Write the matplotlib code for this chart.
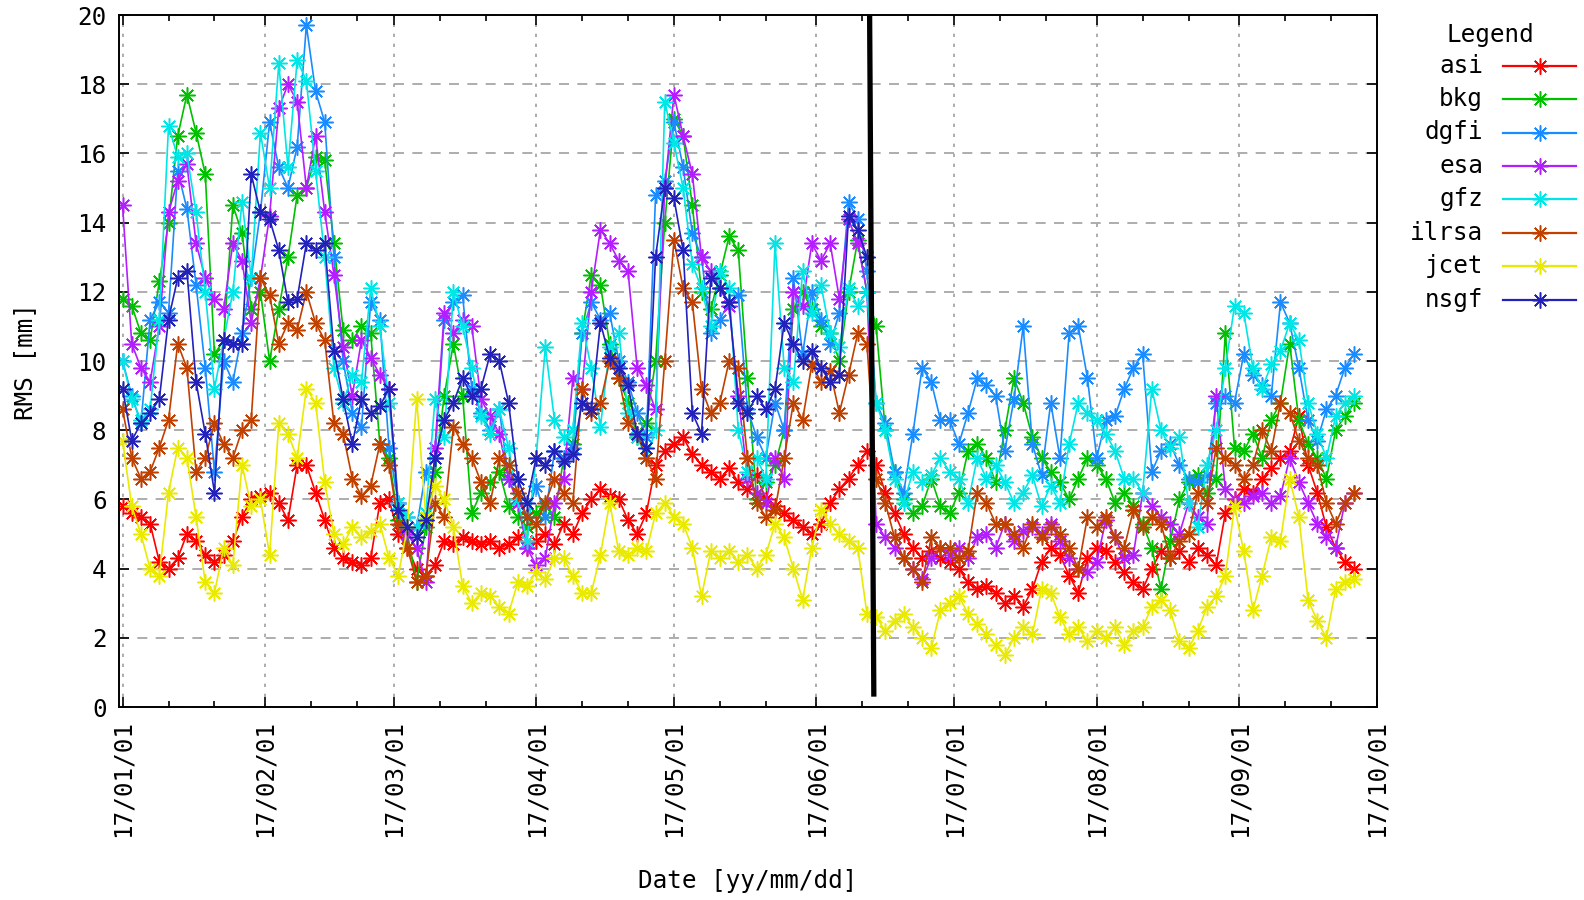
import numpy as np
import pandas as pd
import matplotlib
matplotlib.use('Agg')
import matplotlib.pyplot as plt
import matplotlib.dates as mdates
from matplotlib.lines import Line2D

# RMS values read every second day, 2017-01-01 .. 2017-09-26
dates = pd.date_range('2017-01-01', periods=135, freq='2D')

asi = [5.8, 5.6, 5.5, 5.3, 4.2, 4.0, 4.3, 5.0, 4.8, 4.4,
       4.2, 4.4, 4.8, 5.5, 6.0, 6.1, 6.2, 5.9, 5.4, 7.0,
       7.0, 6.2, 5.4, 4.6, 4.3, 4.2, 4.1, 4.3, 5.9, 6.0,
       5.0, 4.6, 4.0, 3.8, 4.1, 4.8, 4.7, 4.9, 4.8, 4.7,
       4.8, 4.6, 4.7, 4.9, 4.6, 4.8, 5.0, 4.7, 5.3, 5.0,
       5.6, 6.0, 6.3, 6.1, 6.0, 5.4, 5.0, 5.6, 7.0, 7.4,
       7.6, 7.8, 7.3, 7.0, 6.8, 6.6, 6.9, 6.5, 6.3, 6.7,
       6.0, 5.8, 5.6, 5.4, 5.2, 5.0, 5.3, 5.9, 6.3, 6.6,
       7.0, 7.4, 7.0, 6.2, 5.6, 5.0, 4.6, 4.3, 4.5, 4.3,
       4.2, 4.0, 3.6, 3.4, 3.5, 3.3, 3.0, 3.2, 2.9, 3.4,
       4.2, 4.6, 4.4, 3.8, 3.3, 4.3, 4.6, 4.5, 4.2, 3.9,
       3.6, 3.4, 4.0, 4.5, 4.3, 4.5, 4.2, 4.6, 4.4, 4.1,
       5.6, 6.0, 6.3, 6.2, 6.6, 6.9, 7.2, 7.4, 8.4, 7.0,
       6.2, 5.2, 4.6, 4.2, 4.0]

bkg = [11.8, 11.6, 10.8, 10.6, 12.3, 14.0, 16.5, 17.7, 16.6, 15.4,
       10.2, 10.6, 14.5, 13.7, 11.5, 12.0, 10.0, 11.5, 13.0, 14.8,
       15.0, 15.9, 15.8, 13.4, 10.9, 10.6, 11.0, 10.8, 7.6, 7.2,
       5.4, 5.0, 3.6, 5.2, 6.8, 9.0, 10.5, 9.0, 5.6, 6.2,
       6.5, 6.8, 5.8, 5.5, 5.2, 5.6, 5.8, 5.5, 7.2, 7.6,
       10.8, 12.5, 12.2, 10.5, 9.5, 8.8, 7.8, 8.2, 10.0, 14.0,
       17.0, 16.5, 14.5, 12.0, 11.5, 12.5, 13.6, 13.2, 9.5, 6.0,
       6.5, 7.0, 8.0, 11.5, 12.0, 11.5, 11.0, 10.8, 10.0, 12.0,
       13.5, 12.0, 11.0, 8.0, 6.8, 6.0, 5.6, 5.8, 6.6, 5.8,
       5.6, 6.2, 7.4, 7.6, 7.2, 6.5, 8.0, 9.5, 8.8, 7.8,
       7.2, 6.8, 6.5, 6.0, 6.6, 7.2, 7.0, 6.6, 5.9, 6.2,
       5.8, 5.3, 4.6, 3.4, 4.8, 6.0, 6.5, 6.7, 6.2, 6.6,
       10.8, 7.5, 7.4, 7.9, 7.2, 8.3, 8.8, 10.5, 8.3, 7.6,
       7.2, 6.6, 8.0, 8.4, 8.8]

dgfi = [10.0, 9.0, 8.2, 11.2, 11.7, 11.4, 15.5, 14.4, 12.2, 9.8,
        6.8, 10.0, 9.4, 10.8, 12.4, 14.3, 16.9, 15.6, 15.0, 16.2,
        19.7, 17.8, 16.9, 13.0, 10.0, 8.5, 8.1, 11.7, 11.2, 7.5,
        5.9, 5.5, 5.2, 6.8, 7.2, 11.2, 11.7, 11.9, 9.2, 8.5,
        8.0, 8.6, 6.6, 6.0, 5.5, 6.4, 5.5, 7.4, 7.2, 7.5,
        10.8, 11.7, 11.2, 11.4, 10.0, 9.4, 8.5, 7.8, 14.8, 15.2,
        16.9, 15.6, 13.7, 13.0, 10.8, 11.2, 11.7, 11.9, 8.6, 7.8,
        7.2, 8.8, 8.0, 12.4, 10.2, 12.0, 11.2, 10.5, 11.4, 14.6,
        14.1, 12.6, 8.8, 8.2, 6.8, 6.2, 7.9, 9.8, 9.4, 8.3,
        8.3, 7.6, 8.5, 9.5, 9.3, 9.0, 7.4, 8.9, 11.0, 7.6,
        6.7, 8.8, 7.2, 10.8, 11.0, 9.5, 7.2, 8.3, 8.4, 9.2,
        9.8, 10.2, 6.8, 7.4, 7.6, 7.0, 6.6, 6.5, 6.7, 8.8,
        9.0, 8.8, 10.2, 9.6, 9.3, 9.0, 11.7, 11.1, 9.8, 8.3,
        7.7, 8.6, 9.0, 9.8, 10.2]

esa = [14.5, 10.5, 9.8, 9.4, 11.0, 14.3, 15.2, 15.7, 13.4, 12.4,
       11.8, 11.5, 13.4, 12.9, 11.1, 12.4, 14.2, 17.3, 18.0, 17.5,
       15.0, 16.5, 14.3, 12.5, 10.4, 9.0, 10.6, 10.1, 9.6, 9.2,
       5.9, 5.0, 4.6, 3.6, 7.5, 11.4, 10.8, 11.2, 11.0, 8.9,
       8.4, 7.9, 6.6, 5.9, 4.6, 4.1, 4.3, 5.9, 6.6, 9.5,
       9.2, 12.0, 13.8, 13.4, 12.9, 12.6, 9.8, 9.3, 8.6, 15.0,
       17.7, 16.5, 15.4, 13.0, 12.6, 12.1, 11.6, 9.0, 6.6, 6.2,
       5.9, 7.2, 6.6, 12.0, 11.6, 13.4, 12.9, 13.4, 11.8, 14.1,
       13.4, 12.0, 5.3, 4.9, 4.6, 4.3, 4.0, 3.7, 4.3, 4.6,
       4.4, 4.6, 4.3, 4.9, 5.0, 4.6, 5.3, 4.8, 5.1, 5.2,
       5.0, 5.3, 4.8, 4.3, 4.0, 3.9, 4.2, 5.4, 4.9, 4.3,
       4.4, 6.2, 5.8, 5.5, 5.3, 5.0, 5.9, 5.5, 5.3, 9.0,
       6.3, 6.0, 5.9, 6.1, 6.2, 5.9, 6.1, 7.2, 6.5, 5.9,
       5.3, 4.9, 4.6, 5.9, 6.2]

gfz = [10.0, 8.9, 8.3, 8.6, 11.2, 16.8, 15.9, 16.0, 14.3, 12.0,
       9.2, 10.6, 12.0, 14.6, 12.4, 16.6, 15.0, 18.6, 15.6, 18.7,
       18.1, 15.5, 13.0, 9.8, 8.8, 9.6, 9.4, 12.1, 11.0, 8.8,
       5.9, 5.5, 5.2, 5.6, 8.9, 7.8, 12.0, 11.0, 9.8, 8.4,
       7.9, 8.6, 7.5, 6.0, 4.8, 7.2, 10.4, 8.3, 7.8, 8.0,
       11.1, 9.8, 8.1, 10.4, 10.8, 8.5, 7.8, 7.2, 8.0, 17.5,
       16.3, 15.0, 12.8, 12.1, 11.0, 12.6, 12.1, 8.0, 6.8, 7.2,
       6.6, 13.4, 9.8, 9.4, 12.6, 11.4, 12.2, 10.8, 10.4, 12.1,
       11.6, 12.0, 8.8, 8.0, 6.6, 5.9, 6.8, 6.5, 6.7, 7.2,
       6.8, 6.6, 5.9, 7.2, 6.6, 7.0, 6.5, 5.9, 6.2, 6.7,
       5.8, 6.4, 5.9, 7.6, 8.8, 8.5, 8.3, 7.9, 7.4, 6.6,
       6.6, 6.2, 9.2, 8.0, 7.5, 7.8, 5.9, 5.2, 7.0, 8.0,
       9.8, 11.6, 11.4, 9.8, 9.2, 9.9, 10.3, 11.1, 10.6, 8.8,
       7.9, 7.2, 8.4, 8.8, 9.0]

ilrsa = [8.6, 7.2, 6.6, 6.8, 7.5, 8.3, 10.5, 9.8, 6.8, 7.2,
         8.2, 7.6, 7.2, 8.0, 8.3, 12.4, 11.9, 10.5, 11.1, 10.9,
         12.0, 11.1, 10.6, 8.2, 7.9, 6.6, 6.1, 6.4, 7.6, 7.0,
         5.3, 4.6, 3.6, 3.8, 5.9, 5.5, 8.1, 7.6, 7.2, 6.5,
         5.9, 7.2, 7.0, 6.2, 5.5, 5.3, 5.9, 6.6, 6.2, 5.9,
         9.2, 8.5, 8.8, 10.0, 9.5, 8.2, 7.9, 7.2, 6.6, 10.0,
         13.5, 12.1, 11.7, 9.2, 8.5, 8.8, 10.0, 9.8, 7.2, 5.9,
         5.5, 5.7, 7.2, 8.8, 8.3, 9.9, 9.4, 9.7, 8.5, 9.6,
         10.8, 10.5, 6.6, 5.9, 4.9, 4.3, 4.0, 3.6, 4.9, 4.6,
         4.6, 4.3, 4.5, 6.2, 5.9, 5.3, 5.3, 5.0, 4.6, 5.3,
         4.9, 5.2, 5.0, 4.6, 4.0, 5.5, 5.2, 5.5, 4.9, 4.6,
         5.7, 5.2, 5.5, 5.3, 4.3, 4.8, 5.0, 6.2, 5.9, 7.5,
         7.2, 7.0, 6.6, 7.0, 8.0, 7.4, 8.8, 8.5, 7.7, 7.2,
         7.0, 5.9, 5.3, 5.9, 6.2]

jcet = [7.7, 5.8, 5.0, 4.0, 3.8, 6.2, 7.5, 7.2, 5.5, 3.6,
        3.3, 4.6, 4.1, 7.0, 5.8, 6.0, 4.4, 8.2, 7.9, 7.2,
        9.2, 8.8, 6.5, 5.0, 4.7, 5.2, 4.9, 5.1, 5.3, 4.3,
        3.8, 5.2, 8.9, 5.5, 6.4, 6.0, 5.2, 3.5, 3.0, 3.3,
        3.2, 2.9, 2.7, 3.6, 3.5, 3.9, 3.7, 4.3, 4.3, 3.8,
        3.3, 3.3, 4.4, 5.9, 4.5, 4.4, 4.6, 4.5, 5.6, 5.9,
        5.5, 5.3, 4.6, 3.2, 4.5, 4.3, 4.5, 4.2, 4.4, 4.0,
        4.4, 5.3, 4.9, 4.0, 3.1, 4.6, 5.7, 5.3, 5.0, 4.8,
        4.6, 2.7, 2.6, 2.2, 2.5, 2.7, 2.3, 2.0, 1.7, 2.8,
        3.0, 3.2, 2.7, 2.4, 2.1, 1.8, 1.5, 2.0, 2.3, 2.1,
        3.4, 3.3, 2.6, 2.1, 2.3, 1.9, 2.2, 2.0, 2.3, 1.8,
        2.2, 2.3, 2.9, 3.1, 2.8, 1.9, 1.7, 2.2, 2.9, 3.2,
        3.8, 5.8, 4.5, 2.8, 3.8, 4.9, 4.8, 6.6, 5.5, 3.1,
        2.5, 2.0, 3.4, 3.6, 3.7]

# nsgf stops at the marked cut in June
nsgf = [9.2, 7.7, 8.2, 8.5, 8.9, 11.2, 12.4, 12.6, 9.4, 7.9,
        6.2, 10.6, 10.5, 10.5, 15.4, 14.3, 14.1, 13.2, 11.7, 11.8,
        13.4, 13.2, 13.4, 10.3, 8.9, 7.6, 8.9, 8.5, 8.7, 9.2,
        5.7, 5.2, 4.9, 5.4, 7.2, 8.3, 8.8, 9.5, 9.0, 9.2,
        10.2, 10.0, 8.8, 6.6, 5.9, 7.2, 7.0, 7.4, 7.1, 7.3,
        8.8, 8.6, 11.1, 10.1, 9.8, 9.3, 7.9, 7.5, 13.0, 15.0,
        14.7, 13.2, 8.5, 7.9, 12.4, 12.1, 11.7, 8.8, 8.5, 9.0,
        8.6, 9.2, 11.1, 10.5, 10.0, 10.3, 9.8, 9.4, 9.6, 14.2,
        13.8, 13.0]

names = ['asi', 'bkg', 'dgfi', 'esa', 'gfz', 'ilrsa', 'jcet', 'nsgf']
colors = ['#ff0000', '#00c000', '#1a8cff', '#b41eff',
          '#00e6e6', '#c04000', '#eaea00', '#2222bb']

# thick marker line drawn by hand on the original
cut_dates = pd.to_datetime(['2017-06-12 14:00', '2017-06-13 12:00'])
cut_rms = [20.0, 0.3]

FONT = 'DejaVu Sans Mono'
FS = 17.5

fig = plt.figure(figsize=(15.84, 9), dpi=100)
ax = fig.add_axes([0.0752, 0.2144, 0.7941, 0.7689])

series = [asi, bkg, dgfi, esa, gfz, ilrsa, jcet, nsgf]
asterisk = (8, 2, 0)
for vals, col in zip(series, colors):
    ax.plot(dates[:len(vals)], vals, color=col, lw=1.2,
            marker=asterisk, ms=11.5, mew=1.1)

ax.plot(cut_dates, cut_rms, color='black', lw=3.8, zorder=5,
        solid_capstyle='butt')

ax.set_xlim(pd.Timestamp('2016-12-31 06:00'), pd.Timestamp('2017-10-01 00:00'))
ax.set_ylim(0, 20)
ax.set_yticks(np.arange(0, 21, 2))

ax.xaxis.set_major_locator(mdates.MonthLocator())
ax.xaxis.set_minor_locator(mdates.DayLocator(bymonthday=[11, 21]))
ax.xaxis.set_major_formatter(mdates.DateFormatter('%y/%m/%d'))

ax.tick_params(which='both', direction='in', top=True, right=True,
               labelsize=FS, width=1.2)
ax.tick_params(which='major', length=7)
ax.tick_params(which='minor', length=4)
ax.tick_params(axis='x', which='major', pad=9)
ax.tick_params(axis='y', which='major', pad=9)
for lab in ax.get_xticklabels():
    lab.set_rotation(90)
    lab.set_fontfamily(FONT)
for lab in ax.get_yticklabels():
    lab.set_fontfamily(FONT)

ax.grid(axis='x', which='major', color='#a0a0a0', ls=(0, (2, 4)), lw=1.2)
ax.grid(axis='y', which='major', color='#a0a0a0', ls=(0, (6, 5)), lw=1.2)
for sp in ax.spines.values():
    sp.set_linewidth(1.4)

fig.text(25 / 1584, 0.5 * (0.2144 + 0.9833), 'RMS [mm]', rotation=90,
         ha='center', va='center', fontsize=FS, family=FONT)
fig.text(0.4722, 0.021, 'Date [yy/mm/dd]', ha='center', va='center',
         fontsize=FS, family=FONT)

# legend outside, labels right-aligned in front of the samples
fig.text(0.9407, 0.9607, 'Legend', ha='center', va='center',
         fontsize=FS, family=FONT)
for i, (name, col) in enumerate(zip(names, colors)):
    y = 1 - (65.7 + 33.4 * i) / 900
    fig.text(0.9362, y, name, ha='right', va='center', fontsize=FS, family=FONT)
    fig.add_artist(Line2D([0.949, 0.972, 0.995], [y, y, y],
                          transform=fig.transFigure, color=col, lw=1.6,
                          marker=asterisk, ms=11.5, mew=1.1, markevery=[1]))

fig.savefig('out.png', dpi=100)
